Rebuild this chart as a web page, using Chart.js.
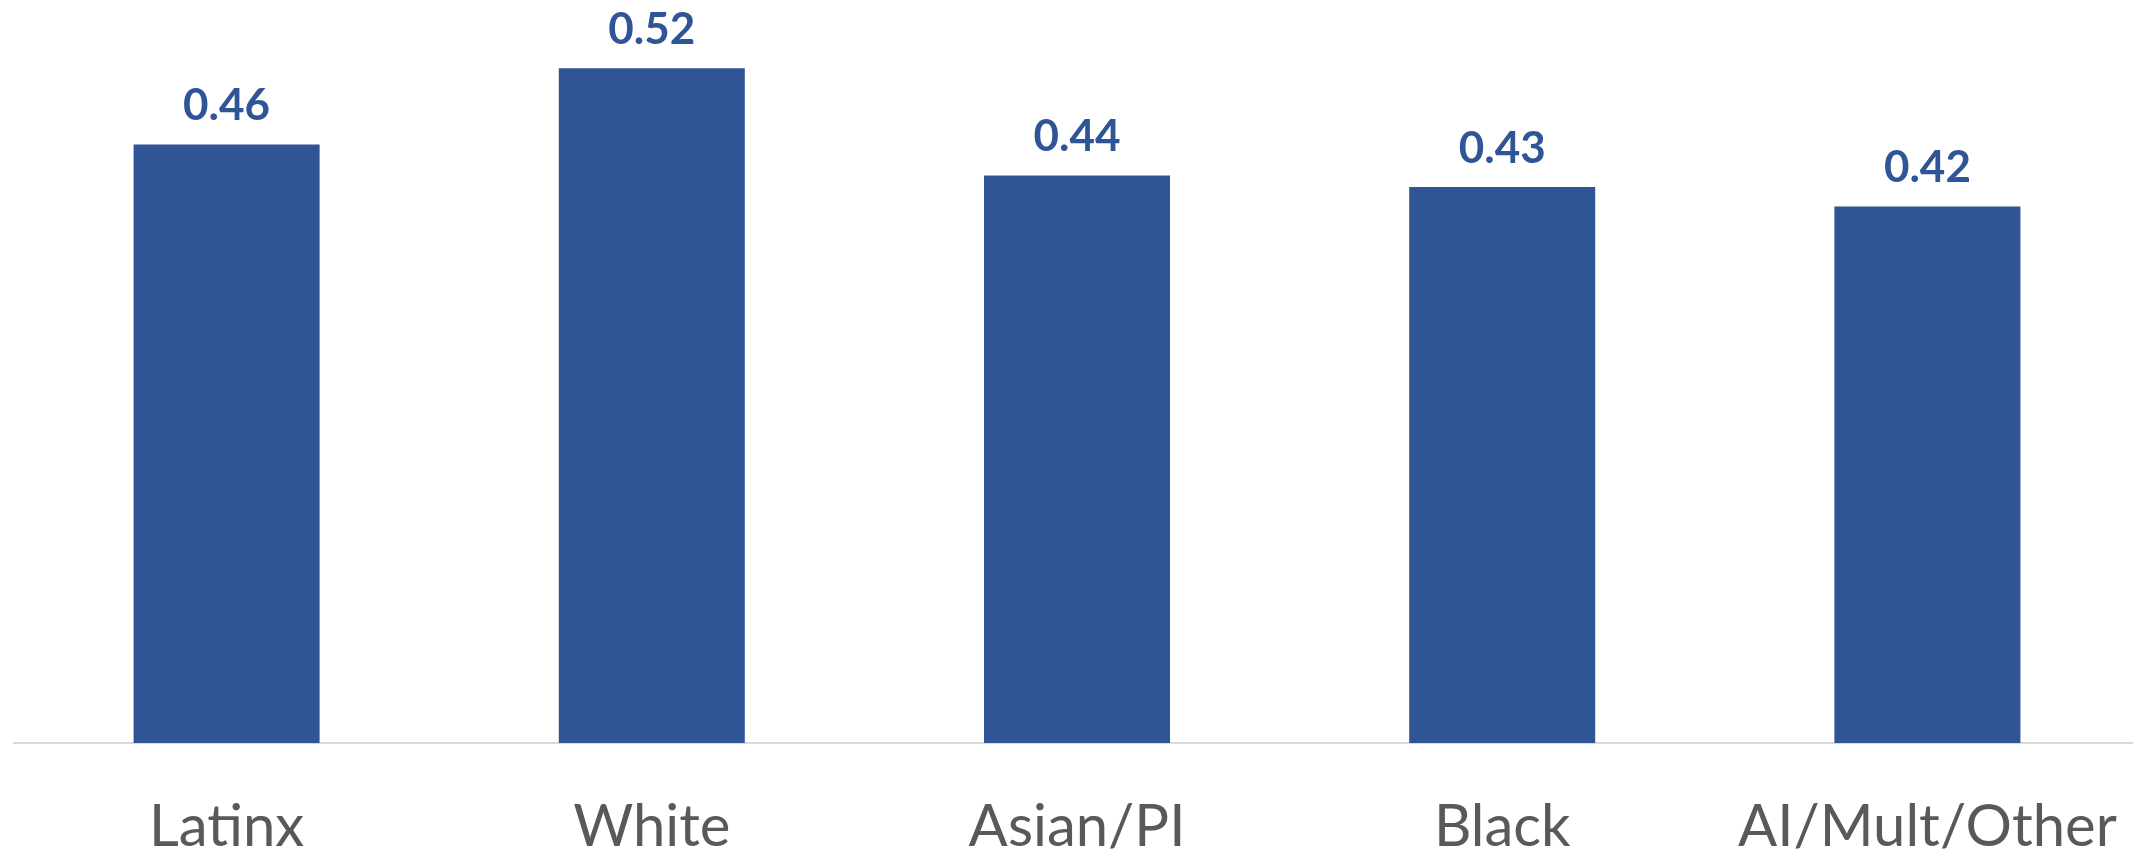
<!DOCTYPE html>
<html>
<head>
<meta charset="utf-8">
<script src="https://cdn.jsdelivr.net/npm/chart.js@4/dist/chart.umd.min.js"></script>
<style>
    html, body { margin: 0; padding: 0; background: #ffffff; overflow: hidden; }
</style>
</head>
<body>
<canvas id="myChart" width="2140" height="852"></canvas>
<script>
// values
const categories = ["Latinx", "White", "Asian/PI", "Black", "AI/Mult/Other"];
const scores = [0.464, 0.523, 0.440, 0.431, 0.416];

const barColor = "#2F5597";

// draw the value above each bar
const valueLabels = {
    id: "valueLabels",
    afterDatasetsDraw(chart) {
        const ctx = chart.ctx;
        const meta = chart.getDatasetMeta(0);
        ctx.save();
        ctx.font = "bold 44px Lato";
        ctx.fillStyle = barColor;
        ctx.textAlign = "center";
        ctx.textBaseline = "alphabetic";
        meta.data.forEach((bar, i) => {
            ctx.fillText(scores[i].toFixed(2), bar.x, bar.y - 24);
        });
        ctx.restore();
    }
};

const ctx = document.getElementById("myChart").getContext("2d");
new Chart(ctx, {
    type: "bar",
    data: {
        labels: categories,
        datasets: [{
            data: scores,
            backgroundColor: barColor,
            categoryPercentage: 1,
            barPercentage: 0.4375
        }]
    },
    options: {
        responsive: false,
        animation: false,
        layout: { padding: { left: 14, right: 0, top: 0, bottom: 0 } },
        plugins: {
            legend: { display: false },
            tooltip: { enabled: false }
        },
        scales: {
            x: {
                grid: { display: false, drawTicks: false },
                border: { display: true, color: "#d9d9d9", width: 2 },
                ticks: {
                    color: "#595959",
                    font: { family: "Lato", size: 58 },
                    padding: 49,
                    maxRotation: 0,
                    autoSkip: false
                },
                afterFit(scale) {
                    // keep the plot full width, labels may run to the edge
                    scale.height = 109;
                    scale.paddingLeft = 0;
                    scale.paddingRight = 0;
                }
            },
            y: {
                display: false,
                min: 0,
                max: 0.576
            }
        }
    },
    plugins: [valueLabels]
});
</script>
</body>
</html>
